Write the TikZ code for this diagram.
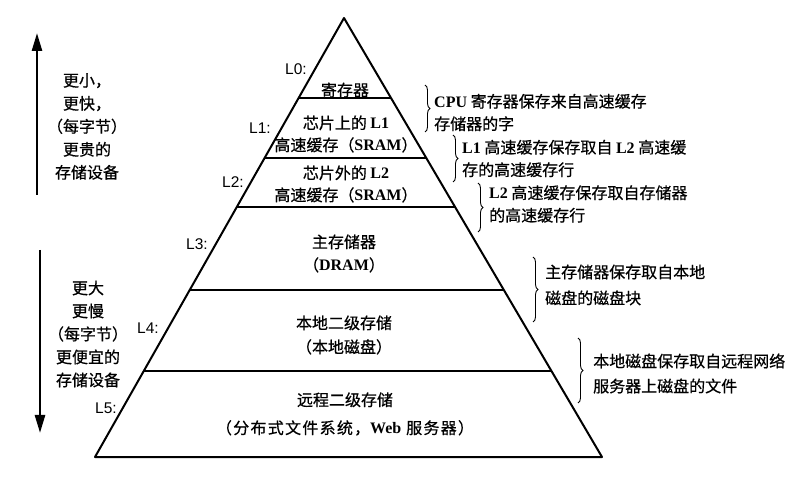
\documentclass[tikz,border=0pt]{standalone}
\usepackage{fontspec}
\usetikzlibrary{decorations.pathreplacing,arrows.meta}
\newfontfamily\cjk[FakeBold=0.6]{Noto Sans CJK SC}
\newfontfamily\cjkwide[FakeBold=0.6,LetterSpace=8]{Noto Sans CJK SC}
\newfontfamily\latserif{Liberation Serif}
\newfontfamily\latsans{Liberation Sans}
\newcommand\Lt[1]{{\latserif\bfseries #1}}
\tikzset{
  pyr/.style={line width=2pt, line join=round},
  layertext/.style={font=\cjk\fontsize{16}{22}\selectfont, align=center, inner sep=0pt},
  lvl/.style={font=\latsans\fontsize{15.5}{18}\selectfont, inner sep=0pt},
  note/.style={font=\cjk\fontsize{16}{22.5}\selectfont, align=left, anchor=west, inner sep=0pt},
  bracket/.style={decorate, decoration={brace, amplitude=5pt}, line width=0.9pt},
  side/.style={font=\cjk\fontsize{16}{23}\selectfont, align=center, inner sep=0pt},
  bigarrow/.style={line width=2.6pt, -{Triangle[length=18pt,width=10pt]}}
}
\begin{document}
\begin{tikzpicture}[x=1pt,y=-1pt]
\useasboundingbox (0,0) rectangle (807,481);

% pyramid outline
\coordinate (apex) at (344,18);
\coordinate (bl) at (95,457);
\coordinate (br) at (602,457);
\draw[pyr] (bl) -- (apex) -- (br) -- cycle;

% level boundaries, each running from the left edge to the right edge
\coordinate (b1l) at (298.6,98);  \coordinate (b1r) at (391.0,98);
\coordinate (b2l) at (264.6,158); \coordinate (b2r) at (426.3,158);
\coordinate (b3l) at (236.8,207); \coordinate (b3r) at (455.1,207);
\coordinate (b4l) at (189.7,290); \coordinate (b4r) at (503.9,290);
\coordinate (b5l) at (143.8,371); \coordinate (b5r) at (551.5,371);
\draw[pyr] (b1l) -- (b1r);
\draw[pyr] (b2l) -- (b2r);
\draw[pyr] (b3l) -- (b3r);
\draw[pyr] (b4l) -- (b4r);
\draw[pyr] (b5l) -- (b5r);

% level names
\node[lvl] (l0) at (296,69) {L0:};
\node[lvl] (l1) at (260,128) {L1:};
\node[lvl] (l2) at (233,182) {L2:};
\node[lvl] (l3) at (197,244) {L3:};
\node[lvl] (l4) at (148,328) {L4:};
\node[lvl] (l5) at (106,408) {L5:};

% level contents
\node[layertext] (t0) at (345,90) {寄存器};
\node[layertext] (t1) at (346,134) {芯片上的 \Lt{L1}\\高速缓存（\Lt{SRAM}）};
\node[layertext] (t2) at (346,184) {芯片外的 \Lt{L2}\\高速缓存（\Lt{SRAM}）};
\node[layertext] (t3) at (344,253.5) {主存储器\\[1pt]（\Lt{DRAM}）};
\node[layertext] (t4) at (344,335) {本地二级存储\\[2pt]（本地磁盘）};
\node[layertext] (t5) at (345,414) {远程二级存储\\[6pt]{\cjkwide（分布式文件系统，\Lt{Web} 服务器）}};

% caching notes
\draw[bracket] (425,85) -- (425,132);
\node[note] (n0) at (434,112.5) {\Lt{CPU} 寄存器保存来自高速缓存\\存储器的字};
\draw[bracket] (453,135) -- (453,182);
\node[note] (n1) at (462,158.5) {\Lt{L1} 高速缓存保存取自 \Lt{L2} 高速缓\\存的高速缓存行};
\draw[bracket] (478,183) -- (478,232);
\node[note] (n2) at (489,204) {\Lt{L2} 高速缓存保存取自存储器\\的高速缓存行};
\draw[bracket] (533,257) -- (533,322);
\node[note, font=\cjk\fontsize{16}{26}\selectfont] (n3) at (545,285) {主存储器保存取自本地\\磁盘的磁盘块};
\draw[bracket] (578,338) -- (578,403);
\node[note, font=\cjk\fontsize{16}{25}\selectfont] (n4) at (593,373.5) {本地磁盘保存取自远程网络\\服务器上磁盘的文件};

% trend arrows
\coordinate (upfoot) at (37,195);
\coordinate (uptip) at (37,33);
\draw[bigarrow] (upfoot) -- (uptip);
\node[side] (upt) at (87,126.5) {更小，\\更快，\\（每字节）\\更贵的\\存储设备};
\coordinate (downfoot) at (40,250);
\coordinate (downtip) at (40,433);
\draw[bigarrow] (downfoot) -- (downtip);
\node[side] (downt) at (88,334) {更大\\更慢\\（每字节）\\更便宜的\\存储设备};
\end{tikzpicture}
\end{document}
